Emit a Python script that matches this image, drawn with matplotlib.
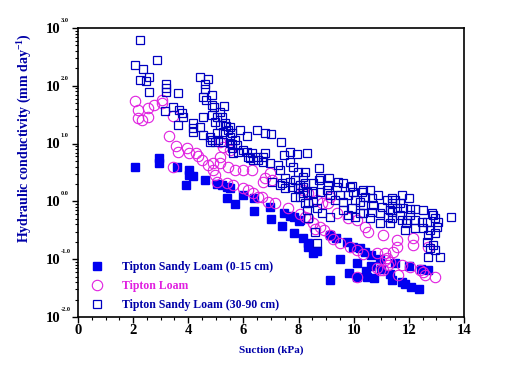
import matplotlib
matplotlib.use("Agg")
import matplotlib.pyplot as plt
import numpy as np

# Tipton Sandy Loam (0-15 cm): suction (kPa), log10 K (mm/day)
suction_top = [2.07, 2.94, 2.94, 3.59, 4.03, 4.03, 4.17, 3.92, 4.61, 5.04, 5.22, 5.40, 5.51,
               5.40, 5.69, 5.98, 6.38, 6.38, 6.96, 7.00, 7.40, 7.47, 7.69, 8.02, 7.83, 8.16,
               8.34, 8.34, 8.67, 9.14, 9.36, 9.50, 9.76, 9.83, 9.97, 10.12, 10.12, 10.23,
               10.41, 10.45, 10.48, 10.63, 10.63, 10.74, 10.95, 10.99, 11.32, 11.39, 11.50,
               11.75, 11.86, 12.01, 12.08, 12.37, 12.44, 12.69, 9.14, 7.83, 8.05, 8.52]
logk_top = [0.60, 0.75, 0.66, 0.60, 0.54, 0.46, 0.44, 0.28, 0.37, 0.30, 0.28, 0.25, 0.23,
            0.06, -0.05, 0.11, 0.06, -0.17, -0.10, -0.30, -0.43, -0.20, -0.25, -0.34, -0.55,
            -0.63, -0.72, -0.79, -0.86, -0.58, -0.63, -1.00, -0.70, -1.24, -0.79, -1.07,
            -1.31, -0.81, -0.88, -1.20, -1.31, -0.93, -1.12, -1.33, -1.00, -1.17, -1.26,
            -1.36, -1.07, -1.39, -1.43, -1.12, -1.48, -1.52, -1.17, -1.19, -1.36, -0.27,
            -0.32, -0.90]

# Tipton Loam
suction_loam = [2.07, 2.18, 2.18, 2.32, 2.54, 2.54, 2.76, 3.05, 3.05, 3.45, 3.30, 3.55, 3.63,
                3.95, 4.03, 4.28, 4.35, 4.50, 4.72, 4.90, 4.90, 4.97, 5.04, 3.45, 5.15, 5.26,
                5.15, 5.51, 5.15, 5.44, 5.69, 5.98, 6.31, 5.40, 5.62, 5.98, 6.17, 6.35, 6.53,
                6.67, 6.89, 7.15, 6.71, 6.96, 6.78, 7.04, 7.62, 8.05, 8.34, 8.52, 8.78, 8.92,
                9.14, 9.25, 9.50, 9.87, 10.12, 10.34, 10.85, 11.14, 11.21, 11.32, 10.85, 11.06,
                11.24, 11.43, 11.57, 11.57, 11.75, 12.04, 12.15, 12.15, 12.40, 12.59, 12.69,
                12.95, 9.39, 9.79, 10.12, 10.41, 10.52, 11.06, 9.07, 9.14, 8.16, 8.34, 8.67,
                8.85, 10.12, 11.61, 12.51, 10.95, 11.14, 8.23, 8.60]
logk_loam = [1.74, 1.58, 1.44, 1.41, 1.62, 1.46, 1.67, 1.75, 1.70, 1.48, 1.13, 0.96, 0.86,
             0.92, 0.84, 0.84, 0.79, 0.72, 0.63, 0.66, 0.54, 0.46, 0.34, 0.60, 0.77, 0.94,
             1.03, 0.89, 0.66, 0.60, 0.54, 0.54, 0.54, 0.32, 0.28, 0.23, 0.20, 0.15, 0.08,
             0.08, -0.01, -0.03, 0.34, 0.49, 0.41, 0.37, -0.11, -0.22, -0.29, -0.37, -0.44,
             -0.50, -0.58, -0.65, -0.72, -0.79, -0.84, -0.91, -0.89, -0.89, -0.98, -1.05,
             -1.15, -1.19, -1.10, -0.88, -0.67, -0.79, -1.10, -1.14, -0.63, -0.75, -1.19,
             -1.27, -0.79, -1.31, -0.20, -0.29, -0.32, -0.44, -0.53, -0.58, -0.03, 0.08,
             0.20, 0.15, 0.02, -0.03, -1.31, -1.27, -1.22, -1.19, -1.01, -0.27, -0.47]

# Tipton Sandy Loam (30-90 cm)
suction_sub = [2.25, 2.07, 2.36, 2.87, 2.25, 2.47, 2.58, 2.58, 3.19, 3.19, 3.19, 3.63, 4.43,
               4.72, 4.61, 4.61, 4.53, 4.64, 4.86, 3.45, 3.16, 3.66, 3.77, 4.53, 3.81, 3.63,
               4.93, 5.30, 5.15, 5.04, 4.17, 4.43, 4.17, 4.97, 5.15, 5.33, 5.51, 5.04, 5.26,
               5.44, 5.88, 6.13, 6.49, 4.17, 4.53, 4.79, 4.79, 5.08, 5.51, 5.69, 5.59, 5.77,
               5.62, 5.80, 5.98, 6.13, 6.31, 6.49, 6.17, 6.35, 6.53, 4.86, 4.86, 5.22, 5.37,
               5.59, 6.78, 7.00, 7.36, 4.86, 4.97, 5.26, 5.51, 5.59, 6.24, 6.71, 6.78, 7.69,
               7.94, 7.47, 8.31, 6.71, 6.96, 7.25, 7.69, 7.80, 8.23, 7.98, 8.16, 7.33, 7.51,
               7.69, 7.87, 8.23, 7.33, 7.51, 7.76, 7.98, 8.31, 7.87, 8.05, 8.74, 8.52, 8.74,
               9.10, 9.43, 9.61, 9.94, 10.34, 10.59, 9.07, 9.39, 8.78, 8.16, 8.16, 8.52, 8.78,
               9.03, 9.14, 9.50, 9.79, 9.97, 10.30, 10.88, 11.21, 11.50, 10.41, 10.66, 10.05,
               10.23, 9.61, 9.32, 8.52, 8.23, 8.31, 8.67, 9.61, 9.94, 10.34, 10.70, 11.03,
               11.32, 11.57, 9.79, 10.05, 10.34, 10.66, 10.95, 11.24, 10.59, 11.75, 11.39,
               11.39, 11.68, 11.79, 12.04, 12.22, 12.51, 12.88, 12.95, 12.04, 11.68, 11.39,
               11.39, 11.75, 11.93, 12.22, 12.48, 12.66, 13.06, 13.02, 12.77, 12.51, 12.22,
               11.86, 12.69, 12.95, 12.66, 12.88, 12.77, 12.95, 12.69, 13.13, 13.53, 12.01,
               12.84, 11.90, 8.67, 8.34, 8.85, 9.14, 10.23, 11.32, 10.95, 7.40, 7.04, 8.05,
               9.87, 8.34, 8.60]
logk_sub = [2.79, 2.36, 2.29, 2.45, 2.10, 2.08, 2.15, 1.89, 2.03, 1.96, 1.89, 1.88, 2.15,
            2.12, 2.03, 1.95, 1.81, 1.75, 1.84, 1.63, 1.56, 1.58, 1.53, 1.46, 1.46, 1.32,
            1.63, 1.65, 1.55, 1.46, 1.36, 1.29, 1.27, 1.37, 1.32, 1.36, 1.29, 1.18, 1.20,
            1.24, 1.24, 1.13, 1.24, 1.20, 1.15, 1.11, 1.03, 1.06, 1.11, 1.06, 0.99, 0.98,
            0.84, 0.86, 0.89, 0.86, 0.84, 0.77, 0.77, 0.72, 0.72, 1.67, 1.50, 1.46, 1.30,
            1.18, 1.18, 1.17, 1.03, 1.06, 1.03, 1.03, 1.01, 0.92, 0.75, 0.77, 0.84, 0.86,
            0.82, 0.80, 0.84, 0.68, 0.66, 0.63, 0.68, 0.60, 0.51, 0.51, 0.42, 0.54, 0.41,
            0.34, 0.37, 0.32, 0.28, 0.23, 0.25, 0.23, 0.16, 0.08, 0.08, 0.58, 0.32, 0.37,
            0.41, 0.34, 0.32, 0.27, 0.20, 0.20, 0.28, 0.25, 0.41, 0.25, 0.15, 0.15, 0.16,
            0.20, 0.11, 0.11, 0.11, 0.16, 0.16, 0.11, 0.02, 0.02, 0.08, 0.06, 0.02,
            -0.01, -0.01, 0.02, -0.01, -0.03, -0.15, -0.11, -0.15, -0.11, -0.06, -0.06, -0.10,
            -0.15, -0.11, -0.24, -0.27, -0.20, -0.18, -0.20, -0.27, -0.29, 0.11, 0.06,
            -0.03, -0.03, -0.11, -0.13, -0.13, -0.15, -0.24, -0.29, -0.24, -0.24, -0.18,
            -0.29, -0.32, -0.32, -0.32, -0.36, -0.36, -0.36, -0.44, -0.50, -0.46, -0.46,
            -0.50, -0.58, -0.55, -0.70, -0.75, -0.81, -0.84, -0.96, -0.96, -0.27, 0.06,
            -0.20, -0.37, -0.72, -0.03, -0.20, -0.27, -0.20, -0.37, -0.37, 0.32, 0.34, 0.28,
            0.25, -0.29, -0.53]

labels = ["Tipton Sandy Loam (0-15 cm)", "Tipton Loam", "Tipton Sandy Loam (30-90 cm)"]
decades = [-2, -1, 0, 1, 2, 3]

BLUE = "#0000f0"
DARK_BLUE = "#0000c0"
MAGENTA = "#e020e0"
TEXT_BLUE = "#0000a8"

plt.rcParams["font.family"] = ["Liberation Serif", "DejaVu Serif"]
plt.rcParams["font.weight"] = "bold"
plt.rcParams["mathtext.fontset"] = "custom"
plt.rcParams["mathtext.rm"] = "Liberation Serif:bold"
plt.rcParams["mathtext.it"] = "Liberation Serif:bold"
plt.rcParams["mathtext.bf"] = "Liberation Serif:bold"

fig = plt.figure(figsize=(5.13, 3.71), dpi=100)
ax = fig.add_axes([0.152, 0.1456, 0.7525, 0.779])

h1, = ax.plot(suction_top, 10 ** np.array(logk_top), "s", ms=5.6, color=BLUE, mec=BLUE,
              linestyle="none")
h2, = ax.plot(suction_loam, 10 ** np.array(logk_loam), "o", ms=7.5, mfc="none", mec=MAGENTA,
              mew=0.8, linestyle="none")
h3, = ax.plot(suction_sub, 10 ** np.array(logk_sub), "s", ms=6.0, mfc="none", mec=DARK_BLUE,
              mew=0.9, linestyle="none")

ax.set_yscale("log")
ax.set_xlim(0, 14)
ax.set_ylim(10.0 ** decades[0], 10.0 ** decades[-1])
ax.set_xticks(np.arange(0, 15, 2))
ax.set_xticks(np.arange(0, 14.01, 0.5), minor=True)
ax.set_yticks([10.0 ** d for d in decades])
ax.yaxis.set_minor_locator(matplotlib.ticker.LogLocator(base=10, subs=np.arange(2, 10)))
ax.yaxis.set_minor_formatter(matplotlib.ticker.NullFormatter())
ax.tick_params(which="major", direction="out", length=4.3, width=1, top=False, right=False,
               labelsize=10.5, pad=1)
ax.tick_params(which="minor", direction="out", length=2.2, width=0.8, top=False, right=False)
ax.tick_params(axis="y", labelleft=False)
for spine in ax.spines.values():
    spine.set_linewidth(1.2)

# y tick labels drawn as "10" with a small exponent, like the original
for d in decades:
    ax.annotate("10", xy=(0, 10.0 ** d), xycoords=("axes fraction", "data"),
                xytext=(-13, -1), textcoords="offset points", ha="right", va="center",
                fontsize=10.5, fontweight="bold")
    ax.annotate(f"{d:.1f}", xy=(0, 10.0 ** d), xycoords=("axes fraction", "data"),
                xytext=(-12.5, 4.5), textcoords="offset points", ha="left", va="baseline",
                fontsize=4.5, fontweight="bold")

ax.set_xlabel("Suction (kPa)", color=TEXT_BLUE, fontsize=8, fontweight="bold", labelpad=6)
ax.set_ylabel("Hydraulic conductivity (mm day$^{-1}$)", color=TEXT_BLUE, fontsize=10,
              fontweight="bold")
ax.yaxis.set_label_coords(-0.115, 0.62)

leg = ax.legend([h1, h2, h3], labels, loc="lower left", bbox_to_anchor=(0.015, -0.005),
                frameon=False, fontsize=8.5, handlelength=1.0, handletextpad=1.6,
                labelspacing=0.62, borderaxespad=0.2,
                labelcolor=[TEXT_BLUE, MAGENTA, TEXT_BLUE])
for t in leg.get_texts():
    t.set_fontweight("bold")

fig.savefig("out.png", dpi=100)
